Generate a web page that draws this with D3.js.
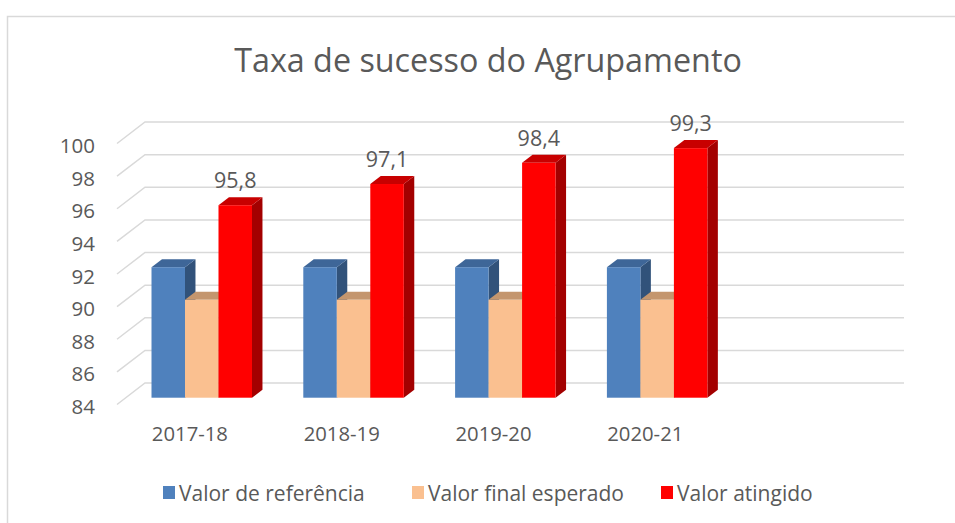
<!DOCTYPE html>
<html>
<head>
<meta charset="utf-8">
<script src="https://cdnjs.cloudflare.com/ajax/libs/d3/7.8.5/d3.min.js"></script>
<style>
  body { margin: 0; background: #fff; }
  text { font-family: "Open Sans", sans-serif; fill: #595959; }
</style>
</head>
<body>
<script>
const width = 955;
const height = 523;

// data
const categories = ["2017-18", "2018-19", "2019-20", "2020-21"];
const seriesNames = ["Valor de referência", "Valor final esperado", "Valor atingido"];
const valorReferencia = [92, 92, 92, 92];
const valorEsperado = [90, 90, 90, 90];
const valorAtingido = [95.8, 97.1, 98.4, 99.3];
const yTicks = [84, 86, 88, 90, 92, 94, 96, 98, 100];

// front, top, side colours per series
const colors = [
  {front: "#4f81bd", top: "#3e6698", side: "#31527a"},
  {front: "#fac090", top: "#c4966e", side: "#a87f5c"},
  {front: "#ff0000", top: "#c80000", side: "#a30000"}
];

const svg = d3.select("body")
  .append("svg")
  .attr("width", width)
  .attr("height", height);

// chart border (runs off the window on the right and bottom)
svg.append("rect")
  .attr("x", 7.5).attr("y", 16.5)
  .attr("width", 1000).attr("height", 600)
  .attr("fill", "none")
  .attr("stroke", "#d9d9d9")
  .attr("stroke-width", 1.5);

// title
svg.append("text")
  .attr("x", 488).attr("y", 72)
  .attr("text-anchor", "middle")
  .style("font-size", "32.3px")
  .text("Taxa de sucesso do Agrupamento");

// scales on the back wall
const y = d3.scaleLinear().domain([84, 100]).range([383, 122]);
const x0 = d3.scaleBand()
  .domain(categories.concat([""]))   // 5 slots, last one empty
  .range([145, 904])
  .paddingInner(0.338)
  .paddingOuter(0.169);
const x1 = d3.scaleBand()
  .domain(d3.range(seriesNames.length))
  .range([0, x0.bandwidth()]);

// oblique depth: full depth vector back -> front
const depth = {dx: -28, dy: 21.5};
const fFront = 0.684, fBack = 0.31;

// side wall diagonals + back wall grid
const grid = svg.append("g")
  .attr("stroke", "#d9d9d9")
  .attr("stroke-width", 1.5)
  .attr("fill", "none");
grid.selectAll("path")
  .data(yTicks)
  .enter()
  .append("path")
  .attr("d", d => {
    const yb = y(d);
    return "M" + (145 + depth.dx) + "," + (yb + depth.dy) + "L145," + yb + "L904," + yb;
  });

// y tick labels
svg.append("g")
  .selectAll("text")
  .data(yTicks)
  .enter()
  .append("text")
  .attr("x", 95)
  .attr("y", d => y(d) + depth.dy + 1.5)
  .attr("text-anchor", "end")
  .attr("dominant-baseline", "central")
  .style("font-size", "20.5px")
  .text(d => d);

// category labels at the front edge of the floor
svg.append("g")
  .selectAll("text")
  .data(categories)
  .enter()
  .append("text")
  .attr("x", d => x0(d) + x0.bandwidth() / 2 - 31)
  .attr("y", 433)
  .attr("text-anchor", "middle")
  .attr("dominant-baseline", "central")
  .style("font-size", "20.3px")
  .text(d => d);

// bars
const series = [valorReferencia, valorEsperado, valorAtingido];
const bars = [];
categories.forEach((c, i) => {
  series.forEach((s, k) => {
    bars.push({cat: c, k: k, value: s[i]});
  });
});

const ox1 = depth.dx * fFront, oy1 = depth.dy * fFront;
const ox2 = depth.dx * fBack, oy2 = depth.dy * fBack;

const barG = svg.append("g")
  .selectAll("g")
  .data(bars)
  .enter()
  .append("g");

function pts(arr) { return arr.map(p => p.join(",")).join(" "); }

barG.each(function(d) {
  const g = d3.select(this);
  const xl = x0(d.cat) + x1(d.k);
  const xr = xl + x1.bandwidth();
  const yt = y(d.value), yb = y(84);
  // front face corners
  const fl = xl + ox1, fr = xr + ox1, ft = yt + oy1, fb = yb + oy1;
  // back face corners
  const bl = xl + ox2, br = xr + ox2, bt = yt + oy2, bb = yb + oy2;
  g.append("polygon")
    .attr("points", pts([[fr, ft], [br, bt], [br, bb], [fr, fb]]))
    .attr("fill", colors[d.k].side);
  g.append("polygon")
    .attr("points", pts([[fl, ft], [bl, bt], [br, bt], [fr, ft]]))
    .attr("fill", colors[d.k].top);
  g.append("rect")
    .attr("x", fl).attr("y", ft)
    .attr("width", fr - fl).attr("height", fb - ft)
    .attr("fill", colors[d.k].front);
});

// data labels on "Valor atingido"
svg.append("g")
  .selectAll("text")
  .data(categories)
  .enter()
  .append("text")
  .attr("x", (d, i) => x0(d) + x1(2) + x1.bandwidth() / 2 + ox1)
  .attr("y", (d, i) => y(valorAtingido[i]) + oy2 - 9)
  .attr("text-anchor", "middle")
  .style("font-size", "21.5px")
  .text((d, i) => String(valorAtingido[i]).replace(".", ","));

// legend
const legendX = [163, 412, 661];
const legend = svg.append("g")
  .selectAll("g")
  .data(seriesNames)
  .enter()
  .append("g")
  .attr("transform", (d, i) => "translate(" + legendX[i] + ",486)");
legend.append("rect")
  .attr("width", 12).attr("height", 13)
  .attr("fill", (d, i) => colors[i].front);
legend.append("text")
  .attr("x", 16).attr("y", 6.5)
  .attr("dominant-baseline", "central")
  .style("font-size", "21px")
  .text(d => d);
</script>
</body>
</html>
